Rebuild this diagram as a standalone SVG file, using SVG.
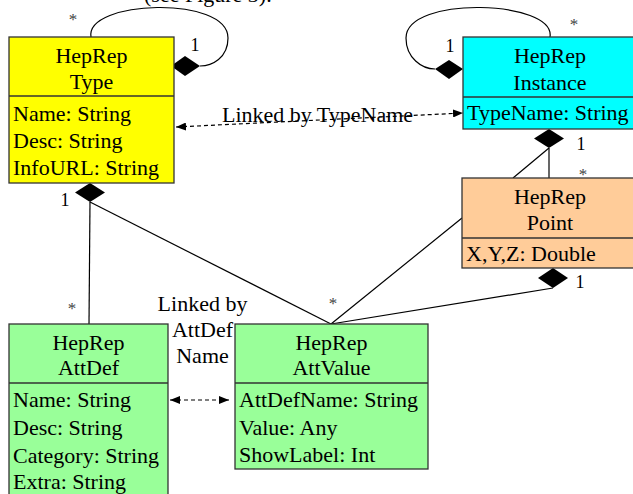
<svg xmlns="http://www.w3.org/2000/svg" width="633" height="494" viewBox="0 0 633 494">
<style>
text{font-family:"Liberation Serif","Times New Roman",serif;font-size:22px;fill:#000}
.c{text-anchor:middle}
.m{font-size:18px;text-anchor:middle}
.s{font-size:17px;text-anchor:middle;fill:#444}
.box{stroke:#333;stroke-width:1.3}
.ln{stroke:#000;stroke-width:1.2;fill:none}
.dash{stroke:#000;stroke-width:1.2;fill:none;stroke-dasharray:4,3}
.dia{fill:#000}
</style>
<defs>
<marker id="ah" viewBox="0 0 10 8" refX="10" refY="4" markerWidth="10" markerHeight="8" markerUnits="userSpaceOnUse" orient="auto-start-reverse">
<path d="M0,0 L10,4 L0,8 z" fill="#000"/>
</marker>
</defs>
<text x="144" y="2" fill="#555">(see Figure 3).</text>
<g id="connectors">
<path class="ln" d="M91,37 C85,0 228,-5 228,38 C228,58 212,66 200,66"/>
<path class="ln" d="M550,37 C556,0 406,-5 406,38 C406,58 422,69 435,69"/>
<line class="dash" x1="176" y1="127" x2="463" y2="113" marker-start="url(#ah)" marker-end="url(#ah)"/>
<line class="dash" x1="170" y1="400" x2="229" y2="400" marker-start="url(#ah)" marker-end="url(#ah)"/>
<line class="ln" x1="90" y1="202" x2="89" y2="324"/>
<line class="ln" x1="90" y1="202" x2="331" y2="324"/>
<line class="ln" x1="462" y1="218" x2="331" y2="324"/>
<line class="ln" x1="553" y1="288" x2="331" y2="324"/>
<line class="ln" x1="549" y1="148" x2="549" y2="178"/>
<line class="ln" x1="549" y1="148" x2="513" y2="178"/>
<polygon class="dia" points="171,66 185,56 200,66 185,76"/>
<polygon class="dia" points="435,69 449,60 463,69 449,79"/>
<polygon class="dia" points="549,129 564,138.5 549,148 534,138.5"/>
<polygon class="dia" points="90,183 105,192.5 90,202 75,192.5"/>
<polygon class="dia" points="553,268 568,278 553,288 538,278"/>
<text class="s" x="73" y="25">*</text>
<text class="m" x="195" y="51">1</text>
<text class="m" x="450" y="52">1</text>
<text class="s" x="574" y="30">*</text>
<text class="m" x="581" y="150">1</text>
<text class="s" x="583" y="180">*</text>
<text class="m" x="65" y="206">1</text>
<text class="s" x="72" y="314">*</text>
<text class="s" x="333" y="309">*</text>
<text class="m" x="580" y="288">1</text>
<text class="c" x="317.5" y="122">Linked by TypeName</text>
<text class="c" x="202.5" y="311">Linked by</text>
<text class="c" x="202.5" y="337">AttDef</text>
<text class="c" x="202.5" y="363">Name</text>
</g>
<g id="type">
<rect class="box" x="9" y="37" width="165" height="146" fill="#FFFF00"/>
<line class="box" x1="9" y1="96" x2="174" y2="96"/>
<text class="c" x="91.5" y="63">HepRep</text>
<text class="c" x="91.5" y="89">Type</text>
<text x="13" y="121">Name: String</text>
<text x="13" y="148">Desc: String</text>
<text x="13" y="175">InfoURL: String</text>
</g>
<g id="instance">
<rect class="box" x="463" y="37" width="180" height="92" fill="#00FFFF"/>
<line class="box" x1="463" y1="97" x2="643" y2="97"/>
<text class="c" x="550" y="63">HepRep</text>
<text class="c" x="550" y="90">Instance</text>
<text x="467" y="120">TypeName: String</text>
</g>
<g id="point">
<rect class="box" x="462" y="178" width="180" height="90" fill="#FFCC99"/>
<line class="box" x1="462" y1="238" x2="642" y2="238"/>
<text class="c" x="550" y="204">HepRep</text>
<text class="c" x="550" y="230">Point</text>
<text x="466" y="261">X,Y,Z: Double</text>
</g>
<g id="attdef">
<rect class="box" x="9" y="324" width="159" height="180" fill="#99FF99"/>
<line class="box" x1="9" y1="383" x2="168" y2="383"/>
<text class="c" x="88.5" y="350">HepRep</text>
<text class="c" x="88.5" y="375">AttDef</text>
<text x="13" y="407">Name: String</text>
<text x="13" y="435">Desc: String</text>
<text x="13" y="463">Category: String</text>
<text x="13" y="489">Extra: String</text>
</g>
<g id="attvalue">
<rect class="box" x="235" y="324" width="193" height="145" fill="#99FF99"/>
<line class="box" x1="235" y1="383" x2="428" y2="383"/>
<text class="c" x="331.5" y="350">HepRep</text>
<text class="c" x="331.5" y="375">AttValue</text>
<text x="239" y="407">AttDefName: String</text>
<text x="239" y="435">Value: Any</text>
<text x="239" y="462">ShowLabel: Int</text>
</g>
</svg>
